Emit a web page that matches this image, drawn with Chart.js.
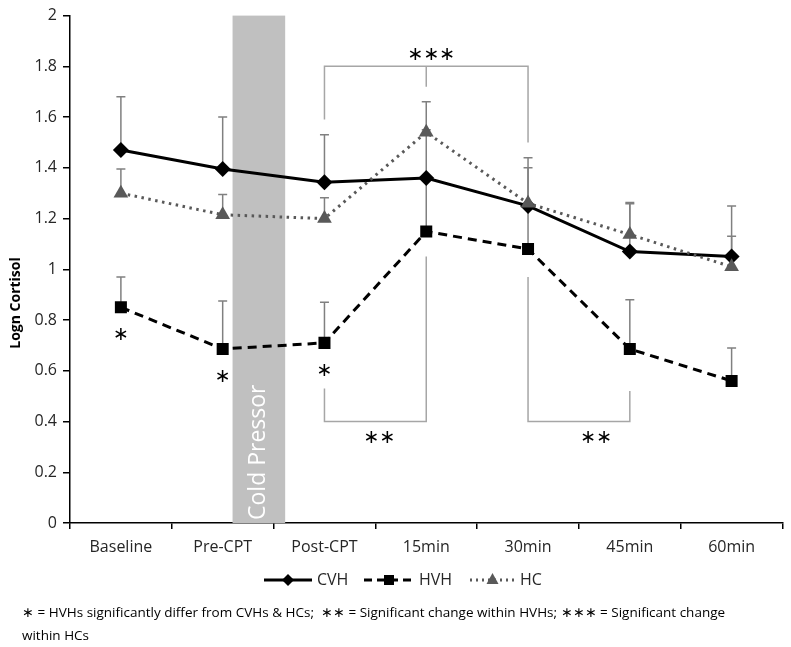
<!DOCTYPE html>
<html>
<head>
<meta charset="utf-8">
<script src="https://cdn.jsdelivr.net/npm/chart.js@4/dist/chart.umd.min.js"></script>
<style>
  html, body { margin: 0; padding: 0; background: #fff; }
  #wrap { width: 791px; height: 647px; }
</style>
</head>
<body>
<div id="wrap"><canvas id="chart" width="791" height="647"></canvas></div>
<script>
// categories and tick values
const timepoints = ['Baseline', 'Pre-CPT', 'Post-CPT', '15min', '30min', '45min', '60min']
const yTicks = [0, 0.2, 0.4, 0.6, 0.8, 1, 1.2, 1.4, 1.6, 1.8, 2]

// series means (logn cortisol)
const cvh = [1.47, 1.395, 1.343, 1.36, 1.25, 1.07, 1.05]
const hvh = [0.85, 0.686, 0.71, 1.149, 1.08, 0.686, 0.56]
const hc = [1.30, 1.215, 1.20, 1.54, 1.26, 1.137, 1.01]

// upper error bar ends
const cvhErr = [1.68, 1.60, 1.53, 1.55, 1.44, 1.263, 1.25]
const hvhErr = [0.97, 0.875, 0.87, 1.36, 1.25, 0.88, 0.69]
const hcErr = [1.395, 1.295, 1.282, 1.66, 1.40, 1.258, 1.13]

// cold pressor band (category index units)
const coldBand = [1.097, 1.614]

// significance brackets: polylines of [index, value]
const brackets = [
  [[2, 1.59], [2, 1.80], [4, 1.80], [4, 1.50]],
  [[3, 1.80], [3, 1.72]],
  [[2, 0.53], [2, 0.40], [3, 0.40], [3, 1.05]],
  [[4, 0.97], [4, 0.40], [5, 0.40], [5, 0.52]]
]
// significance marks: [index, value, text]
const marks = [
  [0, 0.74, '∗'], [1, 0.575, '∗'], [2, 0.60, '∗'],
  [3.05, 1.845, '∗∗∗'], [2.54, 0.335, '∗∗'], [4.67, 0.335, '∗∗']
]

const FONT = "'Open Sans', sans-serif"
const COLORS = {
  black: '#000000',
  hc: '#595959',
  err: '#808080',
  bracket: '#a6a6a6',
  band: '#c0c0c0',
  text: '#262626'
}

const bandPlugin = {
  id: 'band',
  beforeDatasetsDraw(chart) {
    const { ctx, chartArea, scales } = chart
    const x0 = scales.x.getPixelForValue(coldBand[0])
    const x1 = scales.x.getPixelForValue(coldBand[1])
    ctx.save()
    ctx.fillStyle = COLORS.band
    ctx.fillRect(x0, chartArea.top, x1 - x0, chartArea.bottom - chartArea.top)
    ctx.translate((x0 + x1) / 2, chartArea.bottom - 3)
    ctx.rotate(-Math.PI / 2)
    ctx.fillStyle = '#ffffff'
    ctx.font = '23px ' + FONT
    ctx.textAlign = 'left'
    ctx.textBaseline = 'middle'
    ctx.fillText('Cold Pressor', 0, 0)
    ctx.restore()

    // brackets
    ctx.save()
    ctx.strokeStyle = COLORS.bracket
    ctx.lineWidth = 1.5
    brackets.forEach(pts => {
      ctx.beginPath()
      pts.forEach(([i, v], k) => {
        const px = scales.x.getPixelForValue(i)
        const py = scales.y.getPixelForValue(v)
        if (k === 0) ctx.moveTo(px, py)
        else ctx.lineTo(px, py)
      })
      ctx.stroke()
    })
    ctx.restore()

    // error bars (upper only)
    ctx.save()
    ctx.strokeStyle = COLORS.err
    ctx.lineWidth = 1.5
    ;[[cvh, cvhErr], [hvh, hvhErr], [hc, hcErr]].forEach(([vals, errs]) => {
      vals.forEach((v, i) => {
        const px = scales.x.getPixelForValue(i)
        const y0 = scales.y.getPixelForValue(v)
        const y1 = scales.y.getPixelForValue(errs[i])
        ctx.beginPath()
        ctx.moveTo(px, y0)
        ctx.lineTo(px, y1)
        ctx.moveTo(px - 4.5, y1)
        ctx.lineTo(px + 4.5, y1)
        ctx.stroke()
      })
    })
    ctx.restore()
  },
  afterDraw(chart) {
    const { ctx, scales } = chart
    ctx.save()
    ctx.fillStyle = '#000'
    ctx.font = '19px DejaVu Sans'
    ctx.textAlign = 'center'
    ctx.textBaseline = 'middle'
    marks.forEach(([i, v, t]) => {
      ctx.fillText(t, scales.x.getPixelForValue(i), scales.y.getPixelForValue(v))
    })

    // y axis title
    ctx.save()
    ctx.translate(16, 303)
    ctx.rotate(-Math.PI / 2)
    ctx.font = 'bold 14px ' + FONT
    ctx.fillStyle = '#000'
    ctx.fillText('Logn Cortisol', 0, 0)
    ctx.restore()

    // legend
    const ly = 580
    const items = [
      { x0: 264, x1: 312, dash: [], color: COLORS.black, shape: 'diamond', label: 'CVH' },
      { x0: 364, x1: 414, dash: [8, 5], color: COLORS.black, shape: 'square', label: 'HVH' },
      { x0: 470, x1: 515, dash: [2, 4], color: COLORS.hc, shape: 'triangle', label: 'HC' }
    ]
    items.forEach(it => {
      ctx.save()
      ctx.strokeStyle = it.color
      ctx.fillStyle = it.color
      ctx.lineWidth = 3
      ctx.setLineDash(it.dash)
      ctx.beginPath()
      ctx.moveTo(it.x0, ly)
      ctx.lineTo(it.x1, ly)
      ctx.stroke()
      ctx.setLineDash([])
      const cx = (it.x0 + it.x1) / 2
      ctx.beginPath()
      if (it.shape === 'diamond') {
        ctx.moveTo(cx - 6, ly); ctx.lineTo(cx, ly - 6); ctx.lineTo(cx + 6, ly); ctx.lineTo(cx, ly + 6)
      } else if (it.shape === 'square') {
        ctx.rect(cx - 5, ly - 5, 10, 10)
      } else {
        ctx.moveTo(cx, ly - 7); ctx.lineTo(cx + 6, ly + 4); ctx.lineTo(cx - 6, ly + 4)
      }
      ctx.closePath()
      ctx.fill()
      ctx.font = '16px ' + FONT
      ctx.fillStyle = COLORS.text
      ctx.textAlign = 'left'
      ctx.textBaseline = 'middle'
      ctx.fillText(it.label, it.x1 + 5, ly)
      ctx.restore()
    })

    // footnote
    ctx.font = '13.5px ' + FONT
    ctx.fillStyle = '#000'
    ctx.textAlign = 'left'
    ctx.textBaseline = 'middle'
    ctx.fillText('∗ = HVHs significantly differ from CVHs & HCs;  ∗∗ = Significant change within HVHs; ∗∗∗ = Significant change', 22, 613)
    ctx.fillText('within HCs', 22, 636)
    ctx.restore()
  }
}

const lineBase = {
  borderWidth: 3,
  pointBorderWidth: 0,
  tension: 0,
  fill: false
}

new Chart(document.getElementById('chart'), {
  type: 'line',
  data: {
    labels: timepoints,
    datasets: [
      Object.assign({}, lineBase, {
        label: 'CVH', data: cvh, order: 2,
        borderColor: COLORS.black, backgroundColor: COLORS.black,
        pointStyle: 'rectRot', pointRadius: 8, pointHoverRadius: 8
      }),
      Object.assign({}, lineBase, {
        label: 'HVH', data: hvh, order: 1, borderDash: [9, 6],
        borderColor: COLORS.black, backgroundColor: COLORS.black,
        pointStyle: 'rect', pointRadius: 8.5, pointHoverRadius: 8.5
      }),
      Object.assign({}, lineBase, {
        label: 'HC', data: hc, order: 0, borderDash: [2.5, 4.5],
        borderColor: COLORS.hc, backgroundColor: COLORS.hc,
        pointStyle: 'triangle', pointRadius: 8.5, pointHoverRadius: 8.5
      })
    ]
  },
  options: {
    responsive: false,
    animation: false,
    layout: { padding: { top: 7, right: -4, left: 0, bottom: 0 } },
    plugins: {
      legend: { display: false },
      tooltip: { enabled: false }
    },
    scales: {
      x: {
        offset: true,
        grid: { offset: true, drawOnChartArea: false, color: COLORS.black, tickLength: 6, lineWidth: 1.5 },
        border: { color: COLORS.black, width: 1.5 },
        ticks: { color: COLORS.text, font: { family: FONT, size: 16 }, padding: 9, maxRotation: 0 },
        afterFit: (s) => { s.height = 124 }
      },
      y: {
        min: 0,
        max: 2,
        afterBuildTicks: (s) => { s.ticks = yTicks.map(v => ({ value: v })) },
        grid: { drawOnChartArea: false, color: COLORS.black, tickLength: 7, lineWidth: 1.5 },
        border: { color: COLORS.black, width: 1.5 },
        ticks: {
          color: COLORS.text, font: { family: FONT, size: 16 }, padding: 6,
          callback: (v) => String(Math.round(v * 10) / 10)
        },
        afterFit: (s) => { s.width = 70 }
      }
    }
  },
  plugins: [bandPlugin]
})
</script>
</body>
</html>
